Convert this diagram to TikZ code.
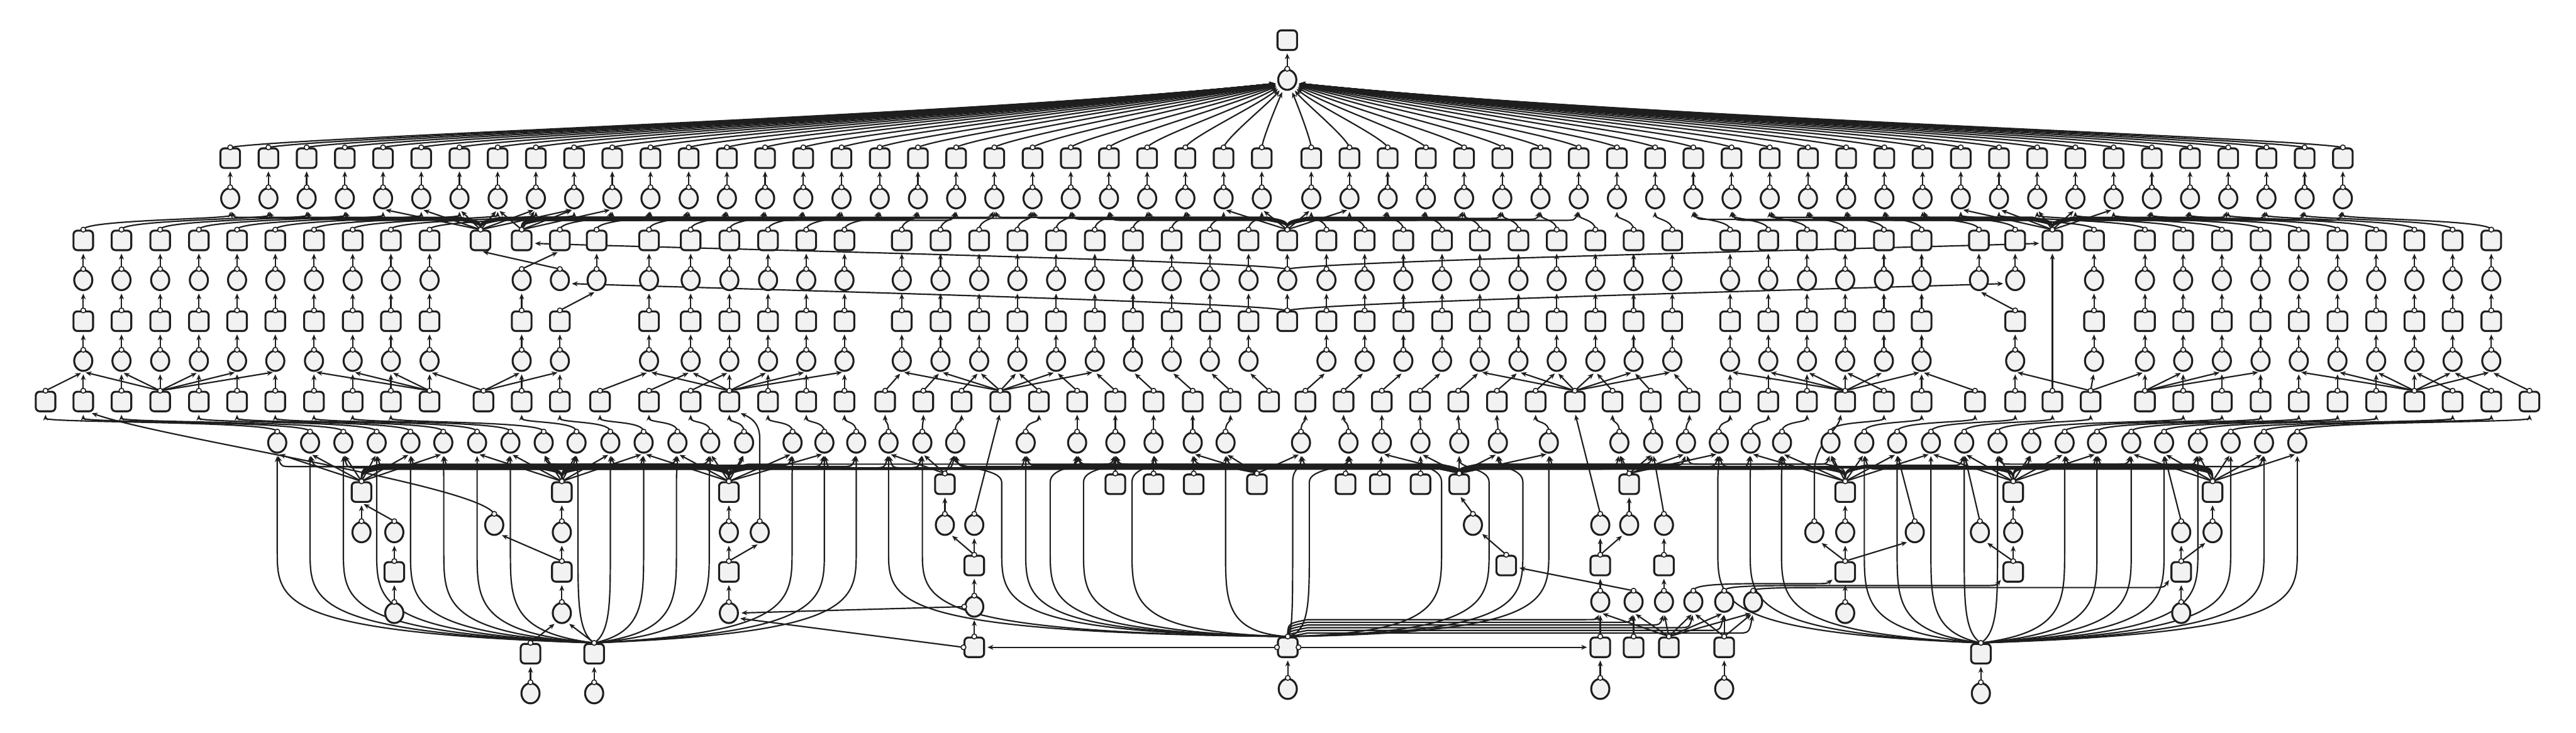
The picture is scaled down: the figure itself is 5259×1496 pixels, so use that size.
\documentclass[tikz,border=0pt]{standalone}
\usetikzlibrary{arrows.meta, shapes.geometric, calc}
\definecolor{ink}{HTML}{1E1E1E}
\definecolor{paper}{HTML}{F2F2F2}
\pgfdeclarelayer{edges}
\pgfsetlayers{edges,main}
\tikzset{
  > = {Stealth[length = 1.2mm, width = 1mm]},
  nodeshell/.style = {draw = ink, fill = paper, line width = 0.4mm, inner sep = 0pt},
  withport/.style = {append after command = {(\tikzlastnode.north) node [portdot] {}}},
  boxnode/.style = {nodeshell, rounded corners = 0.8mm, minimum size = 0.4cm, withport},
  ballnode/.style = {nodeshell, ellipse, minimum width = 0.37cm, minimum height = 0.41cm, withport},
  portdot/.style = {circle, draw = ink, fill = white, line width = 0.2mm, minimum size = 0.1cm, inner sep = 0pt},
  wire/.style = {->, draw = ink, line width = 0.28mm, shorten > = 0.5mm}
}

% x of the two top rows
\newcommand\colx[1]{\pgfmathsetmacro\colpos{ifthenelse(#1<28,470+78*#1,2677+78*(#1-28))}}
% edge that runs along a bus line
\newcommand\busto[5]{%
  \pgfmathsetmacro\busdir{ifthenelse(#4<#3,-1,1)}%
  \pgfmathtruncatemacro\busnear{abs(#4-#3)<200}%
  \pgfmathsetmacro\busa{#3+\busdir*40}%
  \pgfmathsetmacro\busb{#4-\busdir*35}%
  \pgfmathsetmacro\busc{#4-\busdir*8}%
  \pgfmathsetmacro\busd{#5+8}%
  \ifnum\busnear=1
    \draw [wire] (#1.north) -- (#2.south);
  \else
    \draw [wire] (#1.north) .. controls (#3,\busd) .. (\busa,#5) -- (\busb,#5) .. controls (\busc,#5) .. (#2.south);
  \fi}
\newcommand\topbus[3]{\foreach \k in {#2,...,#3} {\colx{\k}\pgfmathsetmacro\busy{444+2*mod(\k,4)}\busto{b4-#1}{c3-\k}{#1}{\colpos}{\busy}}}
\newcommand\hubbus[2]{\foreach \tx [count=\m] in {#2} {\pgfmathsetmacro\busy{948+2.5*mod(\m,5)}\busto{b10-#1}{c9-\tx}{#1}{\tx}{\busy}}}
% long edge from a bottom hub up to the circle row
\newcommand\fanup[3]{\draw [wire] (#1.north) .. controls (#2,1292) and (#2,1228) .. (#2,1125) -- (#2,985) .. controls (#2,955) and (#3,958) .. (c9-#3.south);}

\newcommand\rowfour{170,248,327,406,484,562,641,720,798,877,981,1065,1143,1218,1325,1410,1489,1568,1646,1724,1841,1920,1999,2077,2156,2235,2313,2392,2470,2549,2628,2708,2786,2865,2944,3021,3100,3178,3257,3335,3414,3532,3610,3689,3767,3846,3923,4040,4114,4190,4275,4379,4457,4536,4615,4693,4772,4851,4929,5007,5086}
\newcommand\rowfive{170,248,327,406,484,562,641,720,798,877,1065,1143,1218,1325,1410,1489,1568,1646,1724,1841,1920,1999,2077,2156,2235,2313,2392,2470,2549,2628,2708,2786,2865,2944,3021,3100,3178,3257,3335,3414,3532,3610,3689,3767,3846,3923,4040,4114,4275,4379,4457,4536,4615,4693,4772,4851,4929,5007,5086}
\newcommand\rowsix{170,248,327,406,484,562,641,720,798,877,1065,1143,1325,1410,1489,1568,1646,1724,1841,1920,1999,2077,2156,2235,2313,2392,2470,2549,2628,2708,2786,2865,2944,3021,3100,3178,3257,3335,3414,3532,3610,3689,3767,3846,3923,4114,4275,4379,4457,4536,4615,4693,4772,4851,4929,5007,5086}
\newcommand\rowseven{170,248,327,406,484,562,641,720,798,877,1065,1143,1325,1410,1489,1568,1646,1724,1841,1920,1999,2077,2156,2235,2313,2392,2470,2549,2708,2786,2865,2944,3021,3100,3178,3257,3335,3414,3532,3610,3689,3767,3846,3923,4114,4275,4379,4457,4536,4615,4693,4772,4851,4929,5007,5086}
\newcommand\roweight{93,170,248,327,406,484,562,641,720,798,877,987,1065,1143,1225,1325,1410,1489,1568,1646,1724,1807,1885,1963,2042,2121,2199,2277,2355,2435,2512,2591,2665,2743,2821,2899,2977,3056,3135,3215,3292,3370,3449,3532,3610,3689,3767,3846,3923,4032,4114,4190,4268,4379,4457,4536,4615,4693,4772,4851,4929,5007,5086,5164}
\newcommand\upfour{170,248,327,406,484,562,641,720,798,877,1143,1218,1325,1410,1489,1568,1646,1724,1841,1920,1999,2077,2156,2235,2313,2392,2470,2549,2708,2786,2865,2944,3021,3100,3178,3257,3335,3414,3532,3610,3689,3767,3846,3923,4040,4114,4379,4457,4536,4615,4693,4772,4851,4929,5007,5086}
\newcommand\eightpairs{93/170,170/170,248/248,327/170,327/248,327/327,327/406,327/484,327/562,406/406,484/484,562/562,641/641,720/720,798/798,877/641,877/720,877/798,877/877,987/877,987/1065,987/1143,1065/1065,1143/1143,1225/1325,1325/1410,1410/1489,1489/1325,1489/1410,1489/1489,1489/1568,1489/1646,1489/1724,1568/1568,1646/1646,1724/1724,1807/1841,1885/1920,1963/1999,2042/1841,2042/1920,2042/1999,2042/2077,2042/2156,2042/2235,2121/2077,2199/2156,2277/2235,2355/2313,2435/2392,2512/2470,2591/2549,2665/2708,2743/2786,2821/2865,2899/2944,2977/3021,3056/3100,3135/3178,3215/3021,3215/3100,3215/3178,3215/3257,3215/3335,3215/3414,3292/3257,3370/3335,3449/3414,3532/3532,3610/3610,3689/3689,3767/3532,3767/3610,3767/3689,3767/3767,3767/3846,3767/3923,3846/3767,3923/3923,4032/3923,4114/4114,4268/4114,4268/4275,4268/4379,4379/4379,4379/4457,4379/4536,4379/4615,4457/4457,4536/4536,4615/4615,4693/4693,4772/4772,4851/4851,4929/4693,4929/4772,4929/4851,4929/4929,4929/5007,4929/5086,5007/4929,5086/5007,5164/5086}
\newcommand\ninepairs{566/93,633/170,701/248,769/406,838/484,905/562,974/641,1042/720,1110/798,1177/1065,1246/1143,1314/1225,1383/1325,1450/1410,1519/1489,1618/1568,1683/1646,1748/1724,1814/1807,1883/1885,1950/1963,2094/2121,2199/2199,2277/2277,2355/2355,2435/2435,2502/2512,2656/2665,2753/2743,2821/2821,2900/2899,2979/2977,3058/3056,3162/3135,3306/3292,3375/3370,3442/3449,3509/3532,3574/3610,3638/3689,3737/3846,3806/3923,3873/4032,3942/4114,4010/4190,4078/4268,4147/4457,4215/4536,4281/4615,4351/4693,4418/4772,4487/4851,4554/5007,4622/5086,4690/5164}

\begin{document}
\begin{tikzpicture}[x = 0.01cm, y = -0.01cm]
\useasboundingbox (0,0) rectangle (5259,1496);

% top
\node [nodeshell, rounded corners = 0.8mm, minimum size = 0.4cm] (b0) at (2628,82) {};
\node [ballnode] (c1) at (2628,163) {};
\foreach \i in {0,...,55} {
  \colx{\i}
  \node [boxnode] (b2-\i) at (\colpos,323) {};
  \node [ballnode] (c3-\i) at (\colpos,405) {};
}

% column chains
\foreach \x in \rowfour {\node [boxnode] (b4-\x) at (\x,491) {};}
\foreach \x in \rowfive {\node [ballnode] (c5-\x) at (\x,572) {};}
\foreach \x in \rowsix {\node [boxnode] (b6-\x) at (\x,656) {};}
\foreach \x in \rowseven {\node [ballnode] (c7-\x) at (\x,737) {};}
\foreach \x in \roweight {\node [boxnode] (b8-\x) at (\x,820) {};}
\foreach \cx/\bx in \ninepairs {\node [ballnode] (c9-\cx) at (\cx,904) {};}

% lower rows
\foreach \x in {738,1147,1488,3767,4110,4517} {\node [boxnode] (b10-\x) at (\x,1005) {};}
\foreach \x in {1929,2277,2355,2437,2566,2747,2817,2900,2979,3326} {\node [boxnode] (b10-\x) at (\x,989) {};}
\foreach \x in {738,805,1147,1488,1551,3704,3767,3909,4042,4110,4453,4517} {\node [ballnode] (c11-\x) at (\x,1087) {};}
\foreach \x in {1009,1929,1989,3007,3267,3326,3397} {\node [ballnode] (c11-\x) at (\x,1072) {};}
\foreach \x in {805,1147,1488,3767,4110,4453} {\node [boxnode] (b12-\x) at (\x,1168) {};}
\foreach \x in {1989,3075,3267,3397} {\node [boxnode] (b12-\x) at (\x,1155) {};}
\foreach \x in {805,1147,1488,3767,4453} {\node [ballnode] (c13-\x) at (\x,1252) {};}
\node [ballnode] (c13-1989) at (1989,1239) {};
\foreach \x in {3267,3335,3397,3457,3520,3579} {\node [ballnode] (c13-\x) at (\x,1229) {};}
\foreach \x in {1083,1213,4044} {\node [boxnode] (b14-\x) at (\x,1335) {};}
\foreach \x in {1989,2629,3267,3335,3407,3520} {\node [boxnode] (b14-\x) at (\x,1322) {};}
\foreach \x in {1083,1213,4044} {\node [ballnode] (c15-\x) at (\x,1416) {};}
\foreach \x in {2629,3267,3520} {\node [ballnode] (c15-\x) at (\x,1407) {};}

\node [portdot] at (c13-1989.west) {};
\node [portdot] at (b14-1989.west) {};
\node [portdot] at (b14-2629.west) {};
\node [portdot] at (b14-2629.east) {};

\begin{pgfonlayer}{edges}
\fill [white] (0,0) rectangle (5259,1496);
\draw [wire] (c1.north) -- (b0.south);

% fan into the sink
\foreach \i in {0,...,55} {
  \colx{\i}
  \pgfmathsetmacro\offx{\colpos-2628}
  \pgfmathsetmacro\decay{exp(-abs(\offx)/250)}
  \pgfmathtruncatemacro\endang{ifthenelse(\offx<0,200+60*\decay,-20-60*\decay)}
  \pgfmathsetmacro\dirang{ifthenelse(\offx<0,186+74*\decay,-6-74*\decay)}
  \pgfmathsetmacro\ctrllen{max(0.25,0.003*abs(\offx))}
  \pgfmathsetmacro\startx{\colpos-0.06*\offx}
  \draw [wire] (b2-\i.north) .. controls (\startx,279) and ($(c1.\endang)+(\dirang:\ctrllen cm)$) .. (c1.\endang);
  \draw [wire] (c3-\i.north) -- (b2-\i.south);
}

% row 4 up to row 3
\foreach \x [count=\k from 0] in \upfour {
  \draw [wire] (b4-\x.north) .. controls +(0,-20) and +(0,20) .. (c3-\k.south);
}
\draw [wire] (b4-4275.north) .. controls +(0,-20) and +(0,20) .. (c3-45.south);
\topbus{981}{0}{13}
\topbus{1065}{7}{21}
\topbus{2628}{20}{35}
\topbus{4190}{38}{55}

% chains
\foreach \x in \rowfive {\ifnum\x=1065 \else\ifnum\x=1143 \else \draw [wire] (c5-\x.north) -- (b4-\x.south);\fi\fi}
\draw [wire] (c5-1065.north) -- (b4-1143.south);
\draw [wire] (c5-1143.north) -- (b4-981.south);
\foreach \x in \rowsix {\ifnum\x=1143 \else\ifnum\x=4114 \else \draw [wire] (b6-\x.north) -- (c5-\x.south);\fi\fi}
\draw [wire] (b6-1143.north) -- (c5-1218.south);
\draw [wire] (b6-4114.north) -- (c5-4040.south);
\foreach \x in \rowseven {\draw [wire] (c7-\x.north) -- (b6-\x.south);}
\foreach \bx/\cx in \eightpairs {\draw [wire] (b8-\bx.north) -- (c7-\cx.south);}
\foreach \cx/\bx in \ninepairs {
  \draw [wire] (c9-\cx.north) .. controls +(0,-22) and +(0,22) .. (b8-\bx.south);
}

% long edges across the chains
\draw [wire] (c5-2628.north) .. controls (2540,532) and (1350,506) .. (b4-1065.-15);
\draw [wire] (c5-2628.north) .. controls (2716,532) and (3900,506) .. (b4-4190.-165);
\draw [wire] (b6-2628.north) .. controls (2540,616) and (1420,588) .. (c5-1143.-20);
\draw [wire] (b6-2628.north) .. controls (2716,616) and (3830,588) .. (c5-4114.-160);
\draw [wire] (b8-4190.north) -- (b4-4190.south);

% hubs below the circle row
\hubbus{738}{566,633,701,769,838,905,1042,1177,1314,1450,1618,1748,1883,2094}
\hubbus{1147}{974,1042,1110,1177,1246,1314,566,701,838,1383,1519,1683,1814,1950}
\hubbus{1488}{1314,1383,1450,1519,1618,1683,633,769,905,1110,1246,1748,1883,2199,2277}
\hubbus{1929}{1814,1883,1950}
\hubbus{2277}{2277}
\hubbus{2355}{2355}
\hubbus{2437}{2435}
\hubbus{2566}{2502,2435,2656,2355,2199,2094,1950,1814,1683,2277}
\hubbus{2747}{2753}
\hubbus{2817}{2821}
\hubbus{2900}{2900}
\hubbus{2979}{2821,2900,2979,3058,3162,2094,2199,2277,2355,2435,2502,2656,2753,3306,3375,3442,3509,3574,3638,3737}
\hubbus{3326}{3306,3375,3442,3509}
\hubbus{3767}{3574,3638,3737,3806,3873,3942,3058,3162,3306,3442,4010,4147,4281}
\hubbus{4110}{3942,4010,4078,4147,4215,4281,3509,3638,3806,4351,4487,4622}
\hubbus{4517}{4351,4418,4487,4554,4622,4690,3737,3873,4010,4078,4215,4281}

% left group
\draw [wire] (c11-738.north) -- (b10-738.south);
\draw [wire] (c11-805.north) -- (b10-738.south);
\draw [wire] (b12-805.north) -- (c11-805.south);
\draw [wire] (c13-805.north) -- (b12-805.south);
\draw [wire] (c11-1147.north) -- (b10-1147.south);
\draw [wire] (b12-1147.north) -- (c11-1147.south);
\draw [wire] (b12-1147.north) -- (c11-1009.-60);
\draw [wire] (c13-1147.north) -- (b12-1147.south);
\draw [wire] (c11-1009.north) .. controls (975,990) and (330,895) .. (b8-170.-60);
\draw [wire] (c11-1488.north) -- (b10-1488.south);
\draw [wire] (b12-1488.north) -- (c11-1488.south);
\draw [wire] (b12-1488.north) -- (c11-1551.south);
\draw [wire] (c13-1488.north) -- (b12-1488.south);
\draw [wire] (c11-1551.north) -- (1551,895) .. controls (1551,862) and (1530,852) .. (b8-1489.-50);
\draw [wire] (b14-1083.north) -- (c13-1147.-120);
\draw [wire] (b14-1213.north) -- (c13-1147.-60);
\draw [wire] (c15-1083.north) -- (b14-1083.south);
\draw [wire] (c15-1213.north) -- (b14-1213.south);

% middle group
\draw [wire] (c11-1929.north) -- (b10-1929.south);
\draw [wire] (b12-1989.north) -- (c11-1989.south);
\draw [wire] (b12-1989.north) -- (c11-1929.-60);
\draw [wire] (c13-1989.north) -- (b12-1989.south);
\draw [wire] (b14-1989.north) -- (c13-1989.south);
\draw [wire] (c11-1989.north) -- (b8-2042.south);
\draw [wire] (c13-1989.west) -- (c13-1488.east);
\draw [wire] (b14-1989.west) -- (c13-1488.-30);
\draw [wire] (b14-2629.west) -- (b14-1989.east);
\draw [wire] (b14-2629.east) -- (b14-3267.west);
\draw [wire] (c15-2629.north) -- (b14-2629.south);
\draw [wire] (c11-3007.north) -- (b10-2979.south);
\draw [wire] (b12-3075.north) -- (c11-3007.-45);
\draw [wire] (c13-3335.north) -- (b12-3075.-10);
\draw [wire] (c11-3326.north) -- (b10-3326.south);
\draw [wire] (c11-3267.north) -- (b8-3215.south);
\draw [wire] (c11-3397.north) -- (c9-3375.south);
\draw [wire] (b12-3267.north) -- (c11-3267.south);
\draw [wire] (b12-3267.north) -- (c11-3326.-120);
\draw [wire] (b12-3397.north) -- (c11-3397.south);
\draw [wire] (c13-3267.north) -- (b12-3267.south);
\draw [wire] (c13-3397.north) -- (b12-3397.south);
\draw [wire] (c13-3457.north) .. controls (3457,1192) and (3540,1192) .. (3620,1192) -- (3700,1192) .. controls (3730,1192) .. (b12-3767.-150);
\draw [wire] (c13-3520.north) .. controls (3520,1196) and (3600,1196) .. (3680,1196) -- (4040,1196) .. controls (4075,1196) .. (b12-4110.-150);
\draw [wire] (c13-3579.north) .. controls (3579,1200) and (3660,1200) .. (3740,1200) -- (4385,1200) .. controls (4418,1200) .. (b12-4453.-150);
\draw [wire] (b14-3267.north) -- (c13-3267.south);
\draw [wire] (b14-3335.north) -- (c13-3335.south);
\foreach \tx in {3267,3335,3397,3457,3520,3579} {\draw [wire] (b14-3407.north) -- (c13-\tx.south);}
\foreach \tx in {3457,3520,3579} {\draw [wire] (b14-3520.north) -- (c13-\tx.south);}
\foreach \tx [count=\m] in {3267,3335,3397,3457,3520,3579} {\pgfmathsetmacro\busy{1260+5.5*\m}\busto{b14-2629}{c13-\tx}{2629}{\tx}{\busy}}
\draw [wire] (c15-3267.north) -- (b14-3267.south);
\draw [wire] (c15-3520.north) -- (b14-3520.south);

% right group
\draw [wire] (c11-3767.north) -- (b10-3767.south);
\draw [wire] (b12-3767.north) -- (c11-3767.south);
\draw [wire] (b12-3767.north) -- (c11-3704.-60);
\draw [wire] (b12-3767.north) -- (c11-3909.-120);
\draw [wire] (c13-3767.north) -- (b12-3767.south);
\draw [wire] (c11-3704.north) -- (3704,965) .. controls (3704,905) and (3752,880) .. (b8-3767.-110);
\draw [wire] (c11-3909.north) -- (c9-3873.south);
\draw [wire] (c11-4110.north) -- (b10-4110.south);
\draw [wire] (c11-4042.north) -- (c9-4010.south);
\draw [wire] (b12-4110.north) -- (c11-4110.south);
\draw [wire] (b12-4110.north) -- (c11-4042.-60);
\draw [wire] (c11-4517.north) -- (b10-4517.south);
\draw [wire] (c11-4453.north) -- (c9-4418.south);
\draw [wire] (b12-4453.north) -- (c11-4453.south);
\draw [wire] (b12-4453.north) -- (c11-4517.-120);
\draw [wire] (c13-4453.north) -- (b12-4453.south);
\draw [wire] (c15-4044.north) -- (b14-4044.south);

% bottom fans
\foreach \vx/\tx in {566/566,633/633,701/701,769/769,838/838,906/905,974/974,1042/1042,1180/1177,1246/1246,1314/1314,1381/1383,1448/1450,1617/1618,1683/1683,1748/1748} {
  \fanup{b14-1213}{\vx}{\tx}
}
\foreach \vx/\tx in {1814/1814,1883/1883,2045/1950,2094/2094,2144/2199,2212/2277,2311/2355,2502/2502,2639/2656,2673/2753,2943/2900,3040/2979,3109/3058,3162/3162} {
  \fanup{b14-2629}{\vx}{\tx}
}
\foreach \vx/\tx in {3507/3509,3573/3574,3637/3638,3806/3806,3873/3873,3942/3942,4010/4010,4078/4078,4215/4215,4281/4281,4351/4351,4418/4418,4487/4487,4554/4554,4622/4622,4690/4690} {
  \fanup{b14-4044}{\vx}{\tx}
}
\end{pgfonlayer}

\end{tikzpicture}
\end{document}
